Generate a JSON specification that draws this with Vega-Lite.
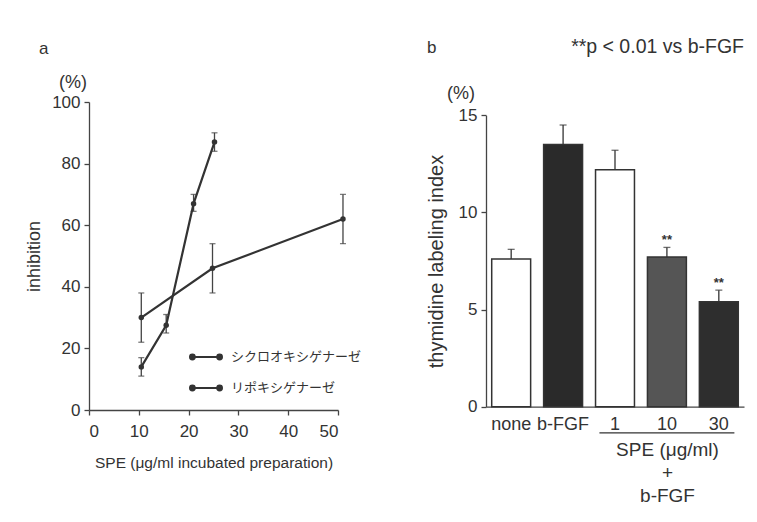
{
  "$schema": "https://vega.github.io/schema/vega-lite/v6.json",
  "background": "white",
  "padding": {"left": 25, "top": 36, "right": 5, "bottom": 5},
  "title": {"text": "**p < 0.01 vs b-FGF", "anchor": "end", "offset": -18, "fontSize": 19.5, "fontWeight": "normal", "font": "Liberation Sans", "color": "#333"},
  "spacing": 78,
  "config": {
    "font": "Liberation Sans",
    "view": {"stroke": null},
    "axis": {"labelColor": "#333", "titleColor": "#333", "domainColor": "#444", "tickColor": "#444", "grid": false, "labelFont": "Liberation Sans", "titleFont": "Liberation Sans", "titleFontWeight": "normal", "domainWidth": 1.3, "tickWidth": 1.3},
    "title": {"color": "#333", "subtitleColor": "#333", "fontWeight": "normal", "font": "Liberation Sans", "subtitleFont": "Liberation Sans"}
  },
  "hconcat": [
    {
      "width": 249,
      "height": 308,
      "title": {"text": "a", "subtitle": "\u200b\u00a0\u00a0\u00a0\u00a0(%)", "anchor": "start", "frame": "group", "dx": -50, "offset": 0, "subtitlePadding": 16, "fontSize": 17, "subtitleFontSize": 18},
      "data": {"values": [
        {"enzyme": "シクロオキシゲナーゼ", "spe": 10.5, "val": 14, "lo": 11, "hi": 17},
        {"enzyme": "シクロオキシゲナーゼ", "spe": 15.5, "val": 27.5, "lo": 25, "hi": 31},
        {"enzyme": "シクロオキシゲナーゼ", "spe": 21, "val": 67, "lo": 64.5, "hi": 70},
        {"enzyme": "シクロオキシゲナーゼ", "spe": 25.2, "val": 87, "lo": 84, "hi": 90},
        {"enzyme": "リポキシゲナーゼ", "spe": 10.5, "val": 30, "lo": 22, "hi": 38},
        {"enzyme": "リポキシゲナーゼ", "spe": 24.8, "val": 46, "lo": 38, "hi": 54},
        {"enzyme": "リポキシゲナーゼ", "spe": 51, "val": 62, "lo": 54, "hi": 70}
      ]},
      "layer": [
        {
          "mark": {"type": "rule", "color": "#444", "strokeWidth": 1.3},
          "encoding": {
            "x": {"field": "spe", "type": "quantitative", "scale": {"domain": [0, 50], "nice": false},
                  "axis": {"values": [0, 10, 20, 30, 40, 50], "title": "SPE (μg/ml incubated preparation)", "tickSize": 5, "labelFontSize": 17, "labelPadding": 8, "titleFontSize": 15.5, "titlePadding": 16}},
            "y": {"field": "lo", "type": "quantitative", "scale": {"domain": [0, 100], "nice": false},
                  "axis": {"values": [0, 20, 40, 60, 80, 100], "title": "inhibition", "tickSize": 5, "labelFontSize": 17, "labelPadding": 4, "titleFontSize": 18, "titlePadding": 8}},
            "y2": {"field": "hi"}
          }
        },
        {
          "mark": {"type": "tick", "orient": "horizontal", "color": "#444", "size": 6, "thickness": 1.3},
          "encoding": {"x": {"field": "spe", "type": "quantitative"}, "y": {"field": "lo", "type": "quantitative"}}
        },
        {
          "mark": {"type": "tick", "orient": "horizontal", "color": "#444", "size": 6, "thickness": 1.3},
          "encoding": {"x": {"field": "spe", "type": "quantitative"}, "y": {"field": "hi", "type": "quantitative"}}
        },
        {
          "mark": {"type": "line", "strokeWidth": 2.2},
          "encoding": {
            "x": {"field": "spe", "type": "quantitative"},
            "y": {"field": "val", "type": "quantitative"},
            "color": {"field": "enzyme", "type": "nominal", "scale": {"domain": ["シクロオキシゲナーゼ", "リポキシゲナーゼ"], "range": ["#333333", "#333333"]},
                      "legend": {"title": null, "orient": "none", "legendX": 100, "legendY": 238, "padding": 0, "rowPadding": 7,
                                 "symbolType": "M-0.85,0L0.85,0M-1,0a0.15,0.15 0 1,0 0.3,0a0.15,0.15 0 1,0 -0.3,0M0.7,0a0.15,0.15 0 1,0 0.3,0a0.15,0.15 0 1,0 -0.3,0",
                                 "symbolSize": 1024, "symbolStrokeWidth": 2, "symbolFillColor": "#333", "symbolStrokeColor": "#333", "symbolOpacity": 1,
                                 "labelFont": "Noto Sans CJK JP", "labelFontSize": 13, "labelColor": "#333", "labelOffset": 8}}
          }
        },
        {
          "mark": {"type": "point", "filled": true, "size": 30, "opacity": 1},
          "encoding": {
            "x": {"field": "spe", "type": "quantitative"},
            "y": {"field": "val", "type": "quantitative"},
            "color": {"field": "enzyme", "type": "nominal"}
          }
        }
      ]
    },
    {
      "width": 258,
      "height": 304.7,
      "title": {"text": "b", "subtitle": "\u200b\u00a0\u00a0\u00a0\u00a0(%)", "anchor": "start", "frame": "group", "dx": -59, "offset": -2, "subtitlePadding": 28, "fontSize": 17, "subtitleFontSize": 18},
      "data": {"values": [
        {"group": "none", "val": 7.6, "hi": 8.1, "sig": ""},
        {"group": "b-FGF", "val": 13.5, "hi": 14.5, "sig": ""},
        {"group": "1", "val": 12.2, "hi": 13.2, "sig": ""},
        {"group": "10", "val": 7.7, "hi": 8.2, "sig": "**"},
        {"group": "30", "val": 5.4, "hi": 6.0, "sig": "**"}
      ]},
      "layer": [
        {
          "mark": {"type": "bar", "stroke": "#333", "strokeWidth": 1.5},
          "encoding": {
            "x": {"field": "group", "type": "nominal", "sort": null,
                  "scale": {"domain": ["none", "b-FGF", "1", "10", "30"], "paddingInner": 0.25, "paddingOuter": 0.11},
                  "axis": {"labelAngle": 0, "ticks": false, "labelPadding": 9, "labelFontSize": 18, "title": ["SPE (μg/ml)", "+", "b-FGF"], "titleX": 181, "titleY": 34, "titleAlign": "center", "titleBaseline": "top", "titleFontSize": 19, "titleLineHeight": 23}},
            "y": {"field": "val", "type": "quantitative", "scale": {"domain": [0, 15], "range": [304.7, 13.3], "nice": false},
                  "axis": {"values": [0, 5, 10, 15], "title": "thymidine labeling index", "tickSize": 5, "labelFontSize": 17, "labelPadding": 4, "titleFontSize": 20, "titlePadding": 12}},
            "fill": {"field": "group", "type": "nominal", "scale": {"domain": ["none", "b-FGF", "1", "10", "30"], "range": ["#ffffff", "#2a2a2a", "#ffffff", "#555555", "#2e2e2e"]}, "legend": null}
          }
        },
        {
          "mark": {"type": "rule", "color": "#333", "strokeWidth": 1.3},
          "encoding": {
            "x": {"field": "group", "type": "nominal"},
            "y": {"field": "val", "type": "quantitative"},
            "y2": {"field": "hi"}
          }
        },
        {
          "mark": {"type": "tick", "orient": "horizontal", "color": "#333", "size": 7, "thickness": 1.3},
          "encoding": {
            "x": {"field": "group", "type": "nominal"},
            "y": {"field": "hi", "type": "quantitative"}
          }
        },
        {
          "mark": {"type": "text", "fontSize": 13, "fontWeight": "bold", "color": "#333", "baseline": "middle", "dy": -7},
          "encoding": {
            "x": {"field": "group", "type": "nominal"},
            "y": {"field": "hi", "type": "quantitative"},
            "text": {"field": "sig"}
          }
        },
        {
          "data": {"values": [{"first": "1", "last": "30"}]},
          "mark": {"type": "rule", "color": "#333", "strokeWidth": 1.3},
          "encoding": {
            "x": {"field": "first", "type": "nominal", "bandPosition": 0.1},
            "x2": {"field": "last", "bandPosition": 0.9},
            "y": {"datum": -1.35, "type": "quantitative"}
          }
        }
      ]
    }
  ]
}
